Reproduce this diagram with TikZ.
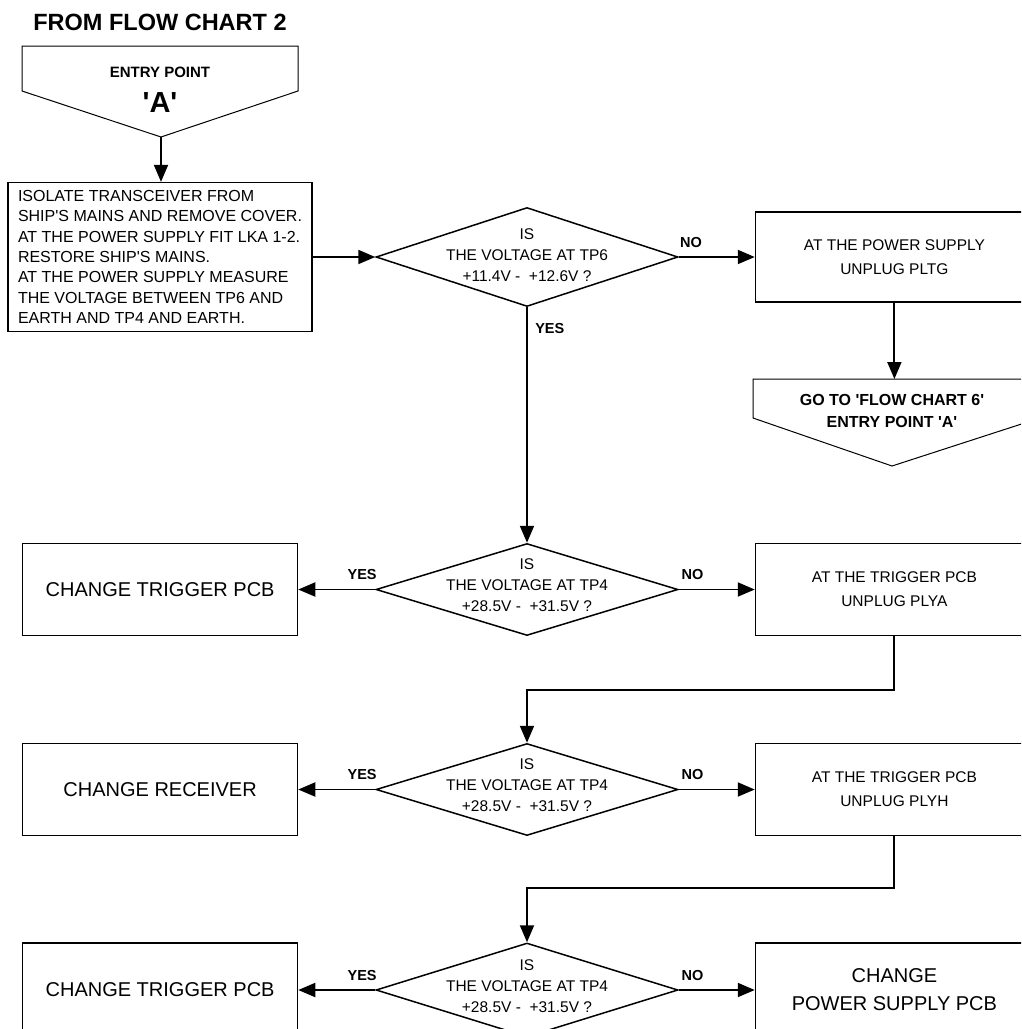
\documentclass[tikz,border=0pt]{standalone}
\usepackage{fontspec}
\setmainfont{Liberation Sans}[Ligatures=TeXOff]
\usetikzlibrary{arrows.meta,positioning,shapes.geometric}

\begin{document}
\begin{tikzpicture}[x=1pt,y=1pt,
  box/.style={draw,line width=1.3pt,minimum height=92pt,inner sep=0pt,align=center,font=\fontsize{15.5}{24}\selectfont},
  rbox/.style={box,minimum width=278pt},
  lbox/.style={box,minimum width=275pt,font=\fontsize{20}{28}\selectfont},
  dec/.style={draw,diamond,line width=1.5pt,minimum width=302pt,minimum height=92pt,inner sep=0pt},
  dtxt/.style={align=center,font=\fontsize{15.5}{21}\selectfont},
  yn/.style={font=\bfseries\fontsize{14.5}{16}\selectfont},
  arrow/.style={-{Triangle[length=17pt,width=14pt]},line width=1.9pt}
]
  \useasboundingbox (0,0) rectangle (1021,-1029);
  \clip (0,0) rectangle (1021,-1029);

  \node[font=\bfseries\fontsize{23.5}{25}\selectfont] (title) at (160,-22) {FROM FLOW CHART 2};
  \draw[line width=1pt] (22,-46) -- (298,-46) -- (298,-91) -- (161,-137) coordinate (entryTip) -- (22,-91) -- cycle;
  \node[font=\bfseries\fontsize{15}{17}\selectfont] (entryLbl) at (160,-72) {ENTRY POINT};
  \node[font=\bfseries\fontsize{29}{31}\selectfont] (entryA) at (160,-103) {'A'};

  \node[draw,line width=1.3pt,minimum width=304pt,minimum height=149pt,align=left,
        font=\fontsize{16}{20.4}\selectfont] (isolate) at (160,-257)
    {ISOLATE TRANSCEIVER FROM\\SHIP'S MAINS AND REMOVE COVER.\\AT THE POWER SUPPLY FIT LKA 1-2.\\RESTORE SHIP'S MAINS.\\AT THE POWER SUPPLY MEASURE\\THE VOLTAGE BETWEEN TP6 AND\\EARTH AND TP4 AND EARTH.};

  \node[dec,minimum height=99pt,label={[dtxt,yshift=2pt]center:{IS\\THE VOLTAGE AT TP6\\+11.4V - \ +12.6V ?}}] (dec1) at (527,-257) {};
  \node[rbox,minimum height=90pt,right=76pt of dec1] (pltg) {AT THE POWER SUPPLY\\UNPLUG PLTG};
  \coordinate (gotoTop) at (892,-379);
  \draw[line width=1pt] (753,-379) -- (1040,-379) -- (1040,-418) -- (892,-466) -- (753,-418) -- cycle;
  \node[font=\bfseries\fontsize{16}{22}\selectfont,align=center] (gotoTxt) at (892,-411) {GO TO 'FLOW CHART 6'\\ENTRY POINT 'A'};

  \node[dec,label={[dtxt,yshift=4pt]center:{IS\\THE VOLTAGE AT TP4\\+28.5V - \ +31.5V ?}}] (dec2) at (527,-589.5) {};
  \node[lbox,left=77pt of dec2] (trig1) {CHANGE TRIGGER PCB};
  \node[rbox,right=76pt of dec2] (plya) {AT THE TRIGGER PCB\\UNPLUG PLYA};

  \node[dec,label={[dtxt,yshift=4pt]center:{IS\\THE VOLTAGE AT TP4\\+28.5V - \ +31.5V ?}}] (dec3) at (527,-789.5) {};
  \node[lbox,left=77pt of dec3] (recv) {CHANGE RECEIVER};
  \node[rbox,right=76pt of dec3] (plyh) {AT THE TRIGGER PCB\\UNPLUG PLYH};

  \node[dec,minimum height=94pt,label={[dtxt,yshift=4pt]center:{IS\\THE VOLTAGE AT TP4\\+28.5V - \ +31.5V ?}}] (dec4) at (527,-990) {};
  \node[lbox,minimum height=94pt,left=77pt of dec4] (trig2) {CHANGE TRIGGER PCB};
  \node[rbox,minimum height=94pt,font=\fontsize{20}{28}\selectfont,right=76pt of dec4] (psu) {CHANGE\\POWER SUPPLY PCB};

  \draw[arrow] (entryTip) -- (entryTip |- isolate.north);
  \draw[arrow] (isolate.east) -- (dec1.west);
  \draw[arrow] (dec1.east) -- node[yn,pos=0.16,above=5pt]{NO} (pltg.west);
  \draw[arrow] (pltg.south) -- (pltg.south |- gotoTop);
  \draw[arrow] (dec1.south) -- node[yn,pos=0.09,anchor=west,xshift=4pt]{YES} (dec2.north);
  \draw[arrow] (dec2.west) -- node[yn,pos=0.17,above=5.5pt]{YES} (trig1.east);
  \draw[arrow] (dec2.east) -- node[yn,pos=0.18,above=5.5pt]{NO} (plya.west);
  \draw[arrow] (plya.south) -- ++(0,-54) -| (dec3.north);
  \draw[arrow] (dec3.west) -- node[yn,pos=0.17,above=5.5pt]{YES} (recv.east);
  \draw[arrow] (dec3.east) -- node[yn,pos=0.18,above=5.5pt]{NO} (plyh.west);
  \draw[arrow] (plyh.south) -- ++(0,-52) -| (dec4.north);
  \draw[arrow] (dec4.west) -- node[yn,pos=0.17,above=5.5pt]{YES} (trig2.east);
  \draw[arrow] (dec4.east) -- node[yn,pos=0.18,above=5.5pt]{NO} (psu.west);
\end{tikzpicture}
\end{document}
